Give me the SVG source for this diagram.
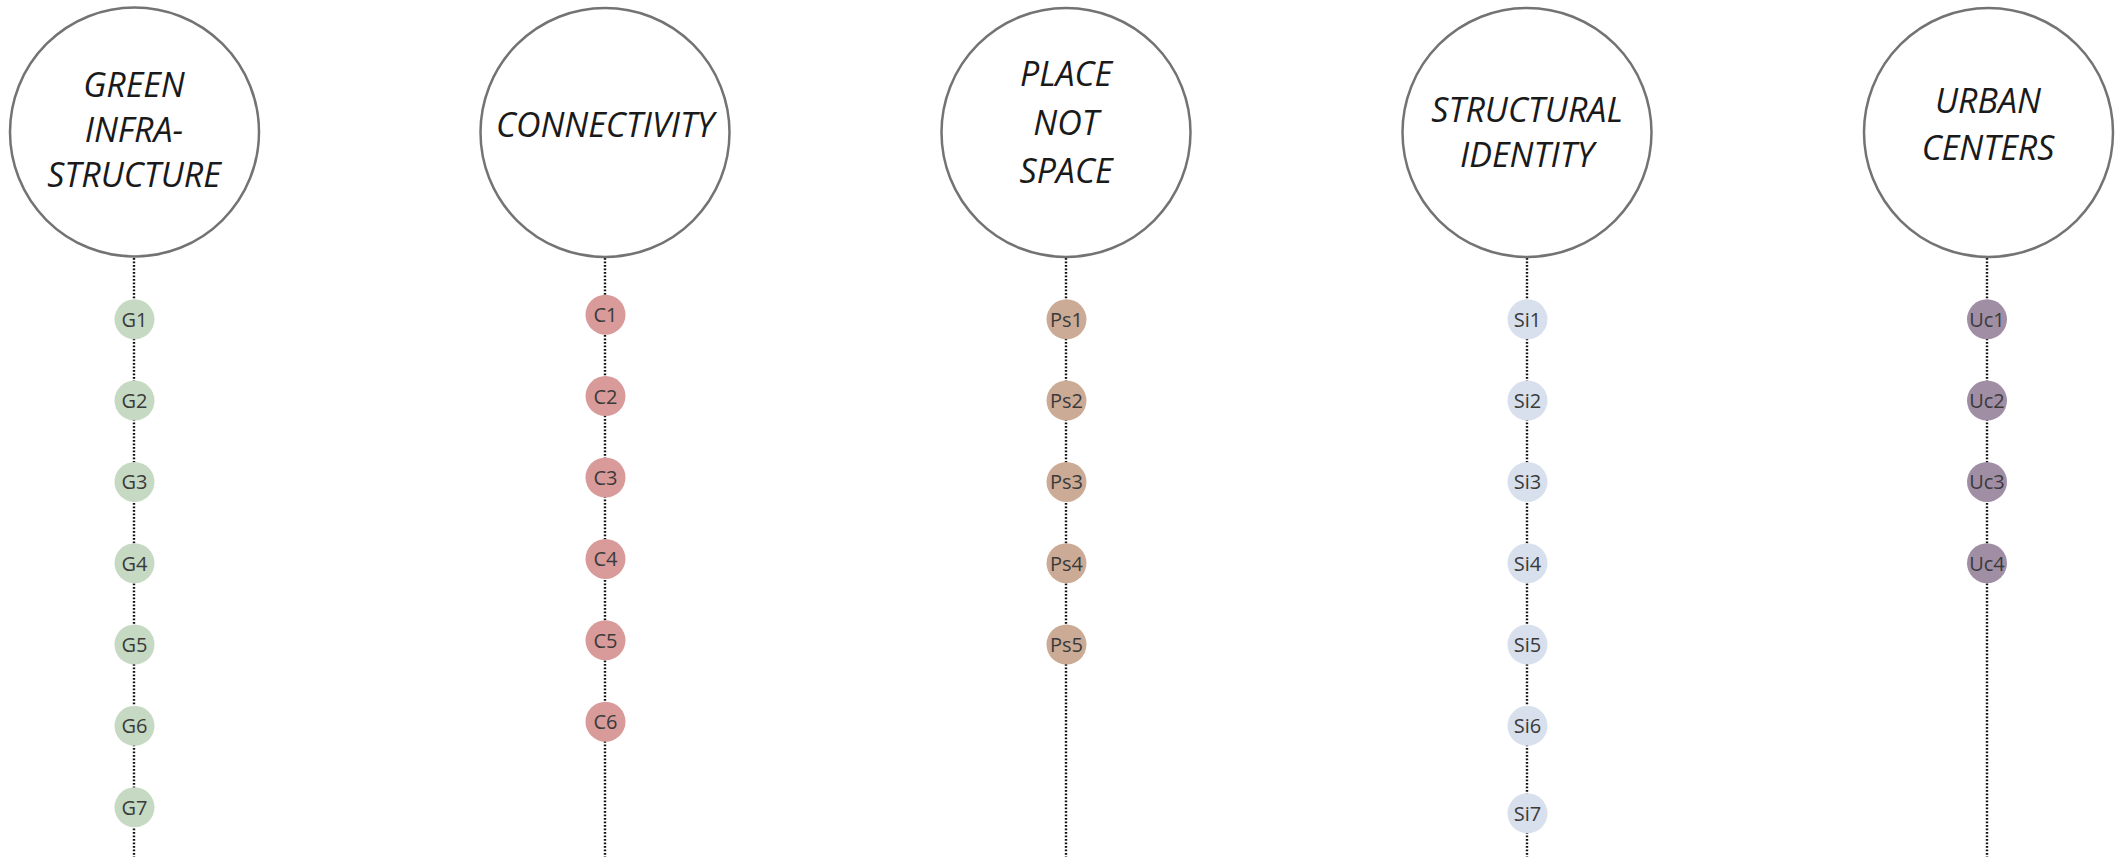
<svg xmlns="http://www.w3.org/2000/svg" width="2121" height="857" viewBox="0 0 2121 857">
<style>
.big{fill:#fff;stroke:#737373;stroke-width:2.5}
.t{font-family:"Open Sans","Liberation Sans",sans-serif;font-style:italic;font-size:34px;fill:#1a1a1a;text-anchor:middle}
.n{font-family:"Open Sans","Liberation Sans",sans-serif;font-size:20px;fill:#3a3a3a;text-anchor:middle;dominant-baseline:central}
.d{stroke:#111;stroke-width:2.4;stroke-dasharray:1.7 1.8;fill:none}
.g{fill:#c6d9c2}.c{fill:#d99a9a}.p{fill:#cbab95}.s{fill:#d7e0ec}.u{fill:#a08ea5}
</style>
<rect width="2121" height="857" fill="#fff"/>
<g id="connectors">
<line class="d" x1="134" y1="258" x2="134" y2="857"/>
<line class="d" x1="605" y1="258" x2="605" y2="857"/>
<line class="d" x1="1066" y1="258" x2="1066" y2="857"/>
<line class="d" x1="1527" y1="258" x2="1527" y2="857"/>
<line class="d" x1="1987" y1="258" x2="1987" y2="857"/>
</g>
<g id="green-infrastructure"><circle class="big" cx="134.5" cy="132" r="124.5"/>
<text class="t" x="134" y="97">GREEN</text><text class="t" x="134" y="142">INFRA-</text><text class="t" x="134" y="187">STRUCTURE</text></g>
<g id="connectivity"><circle class="big" cx="605" cy="132.5" r="124.5"/>
<text class="t" x="605" y="137">CONNECTIVITY</text></g>
<g id="place-not-space"><circle class="big" cx="1066" cy="132.5" r="124.5"/>
<text class="t" x="1066" y="86">PLACE</text><text class="t" x="1066" y="135">NOT</text><text class="t" x="1066" y="183">SPACE</text></g>
<g id="structural-identity"><circle class="big" cx="1527" cy="132.5" r="124.5"/>
<text class="t" x="1527" y="122">STRUCTURAL</text><text class="t" x="1527" y="167">IDENTITY</text></g>
<g id="urban-centers"><circle class="big" cx="1988.5" cy="132.5" r="124.5"/>
<text class="t" x="1988" y="113">URBAN</text><text class="t" x="1988" y="160">CENTERS</text></g>
<g id="G1"><circle class="g" cx="134.5" cy="319.3" r="20"/><text class="n" x="134.5" y="319.3">G1</text></g>
<g id="G2"><circle class="g" cx="134.5" cy="400.6" r="20"/><text class="n" x="134.5" y="400.6">G2</text></g>
<g id="G3"><circle class="g" cx="134.5" cy="481.9" r="20"/><text class="n" x="134.5" y="481.9">G3</text></g>
<g id="G4"><circle class="g" cx="134.5" cy="563.2" r="20"/><text class="n" x="134.5" y="563.2">G4</text></g>
<g id="G5"><circle class="g" cx="134.5" cy="644.5" r="20"/><text class="n" x="134.5" y="644.5">G5</text></g>
<g id="G6"><circle class="g" cx="134.5" cy="725.8" r="20"/><text class="n" x="134.5" y="725.8">G6</text></g>
<g id="G7"><circle class="g" cx="134.5" cy="807.3" r="20"/><text class="n" x="134.5" y="807.3">G7</text></g>
<g id="C1"><circle class="c" cx="605.5" cy="314.7" r="20"/><text class="n" x="605.5" y="314.7">C1</text></g>
<g id="C2"><circle class="c" cx="605.5" cy="396.1" r="20"/><text class="n" x="605.5" y="396.1">C2</text></g>
<g id="C3"><circle class="c" cx="605.5" cy="477.5" r="20"/><text class="n" x="605.5" y="477.5">C3</text></g>
<g id="C4"><circle class="c" cx="605.5" cy="558.9" r="20"/><text class="n" x="605.5" y="558.9">C4</text></g>
<g id="C5"><circle class="c" cx="605.5" cy="640.3" r="20"/><text class="n" x="605.5" y="640.3">C5</text></g>
<g id="C6"><circle class="c" cx="605.5" cy="721.7" r="20"/><text class="n" x="605.5" y="721.7">C6</text></g>
<g id="Ps1"><circle class="p" cx="1066.5" cy="319.3" r="20"/><text class="n" x="1066.5" y="319.3">Ps1</text></g>
<g id="Ps2"><circle class="p" cx="1066.5" cy="400.6" r="20"/><text class="n" x="1066.5" y="400.6">Ps2</text></g>
<g id="Ps3"><circle class="p" cx="1066.5" cy="481.9" r="20"/><text class="n" x="1066.5" y="481.9">Ps3</text></g>
<g id="Ps4"><circle class="p" cx="1066.5" cy="563.2" r="20"/><text class="n" x="1066.5" y="563.2">Ps4</text></g>
<g id="Ps5"><circle class="p" cx="1066.5" cy="644.5" r="20"/><text class="n" x="1066.5" y="644.5">Ps5</text></g>
<g id="Si1"><circle class="s" cx="1527.5" cy="319.3" r="20"/><text class="n" x="1527.5" y="319.3">Si1</text></g>
<g id="Si2"><circle class="s" cx="1527.5" cy="400.6" r="20"/><text class="n" x="1527.5" y="400.6">Si2</text></g>
<g id="Si3"><circle class="s" cx="1527.5" cy="481.9" r="20"/><text class="n" x="1527.5" y="481.9">Si3</text></g>
<g id="Si4"><circle class="s" cx="1527.5" cy="563.2" r="20"/><text class="n" x="1527.5" y="563.2">Si4</text></g>
<g id="Si5"><circle class="s" cx="1527.5" cy="644.5" r="20"/><text class="n" x="1527.5" y="644.5">Si5</text></g>
<g id="Si6"><circle class="s" cx="1527.5" cy="725.8" r="20"/><text class="n" x="1527.5" y="725.8">Si6</text></g>
<g id="Si7"><circle class="s" cx="1527.5" cy="813.3" r="20"/><text class="n" x="1527.5" y="813.3">Si7</text></g>
<g id="Uc1"><circle class="u" cx="1987" cy="319.3" r="20"/><text class="n" x="1987" y="319.3">Uc1</text></g>
<g id="Uc2"><circle class="u" cx="1987" cy="400.6" r="20"/><text class="n" x="1987" y="400.6">Uc2</text></g>
<g id="Uc3"><circle class="u" cx="1987" cy="481.9" r="20"/><text class="n" x="1987" y="481.9">Uc3</text></g>
<g id="Uc4"><circle class="u" cx="1987" cy="563.2" r="20"/><text class="n" x="1987" y="563.2">Uc4</text></g>
</svg>
